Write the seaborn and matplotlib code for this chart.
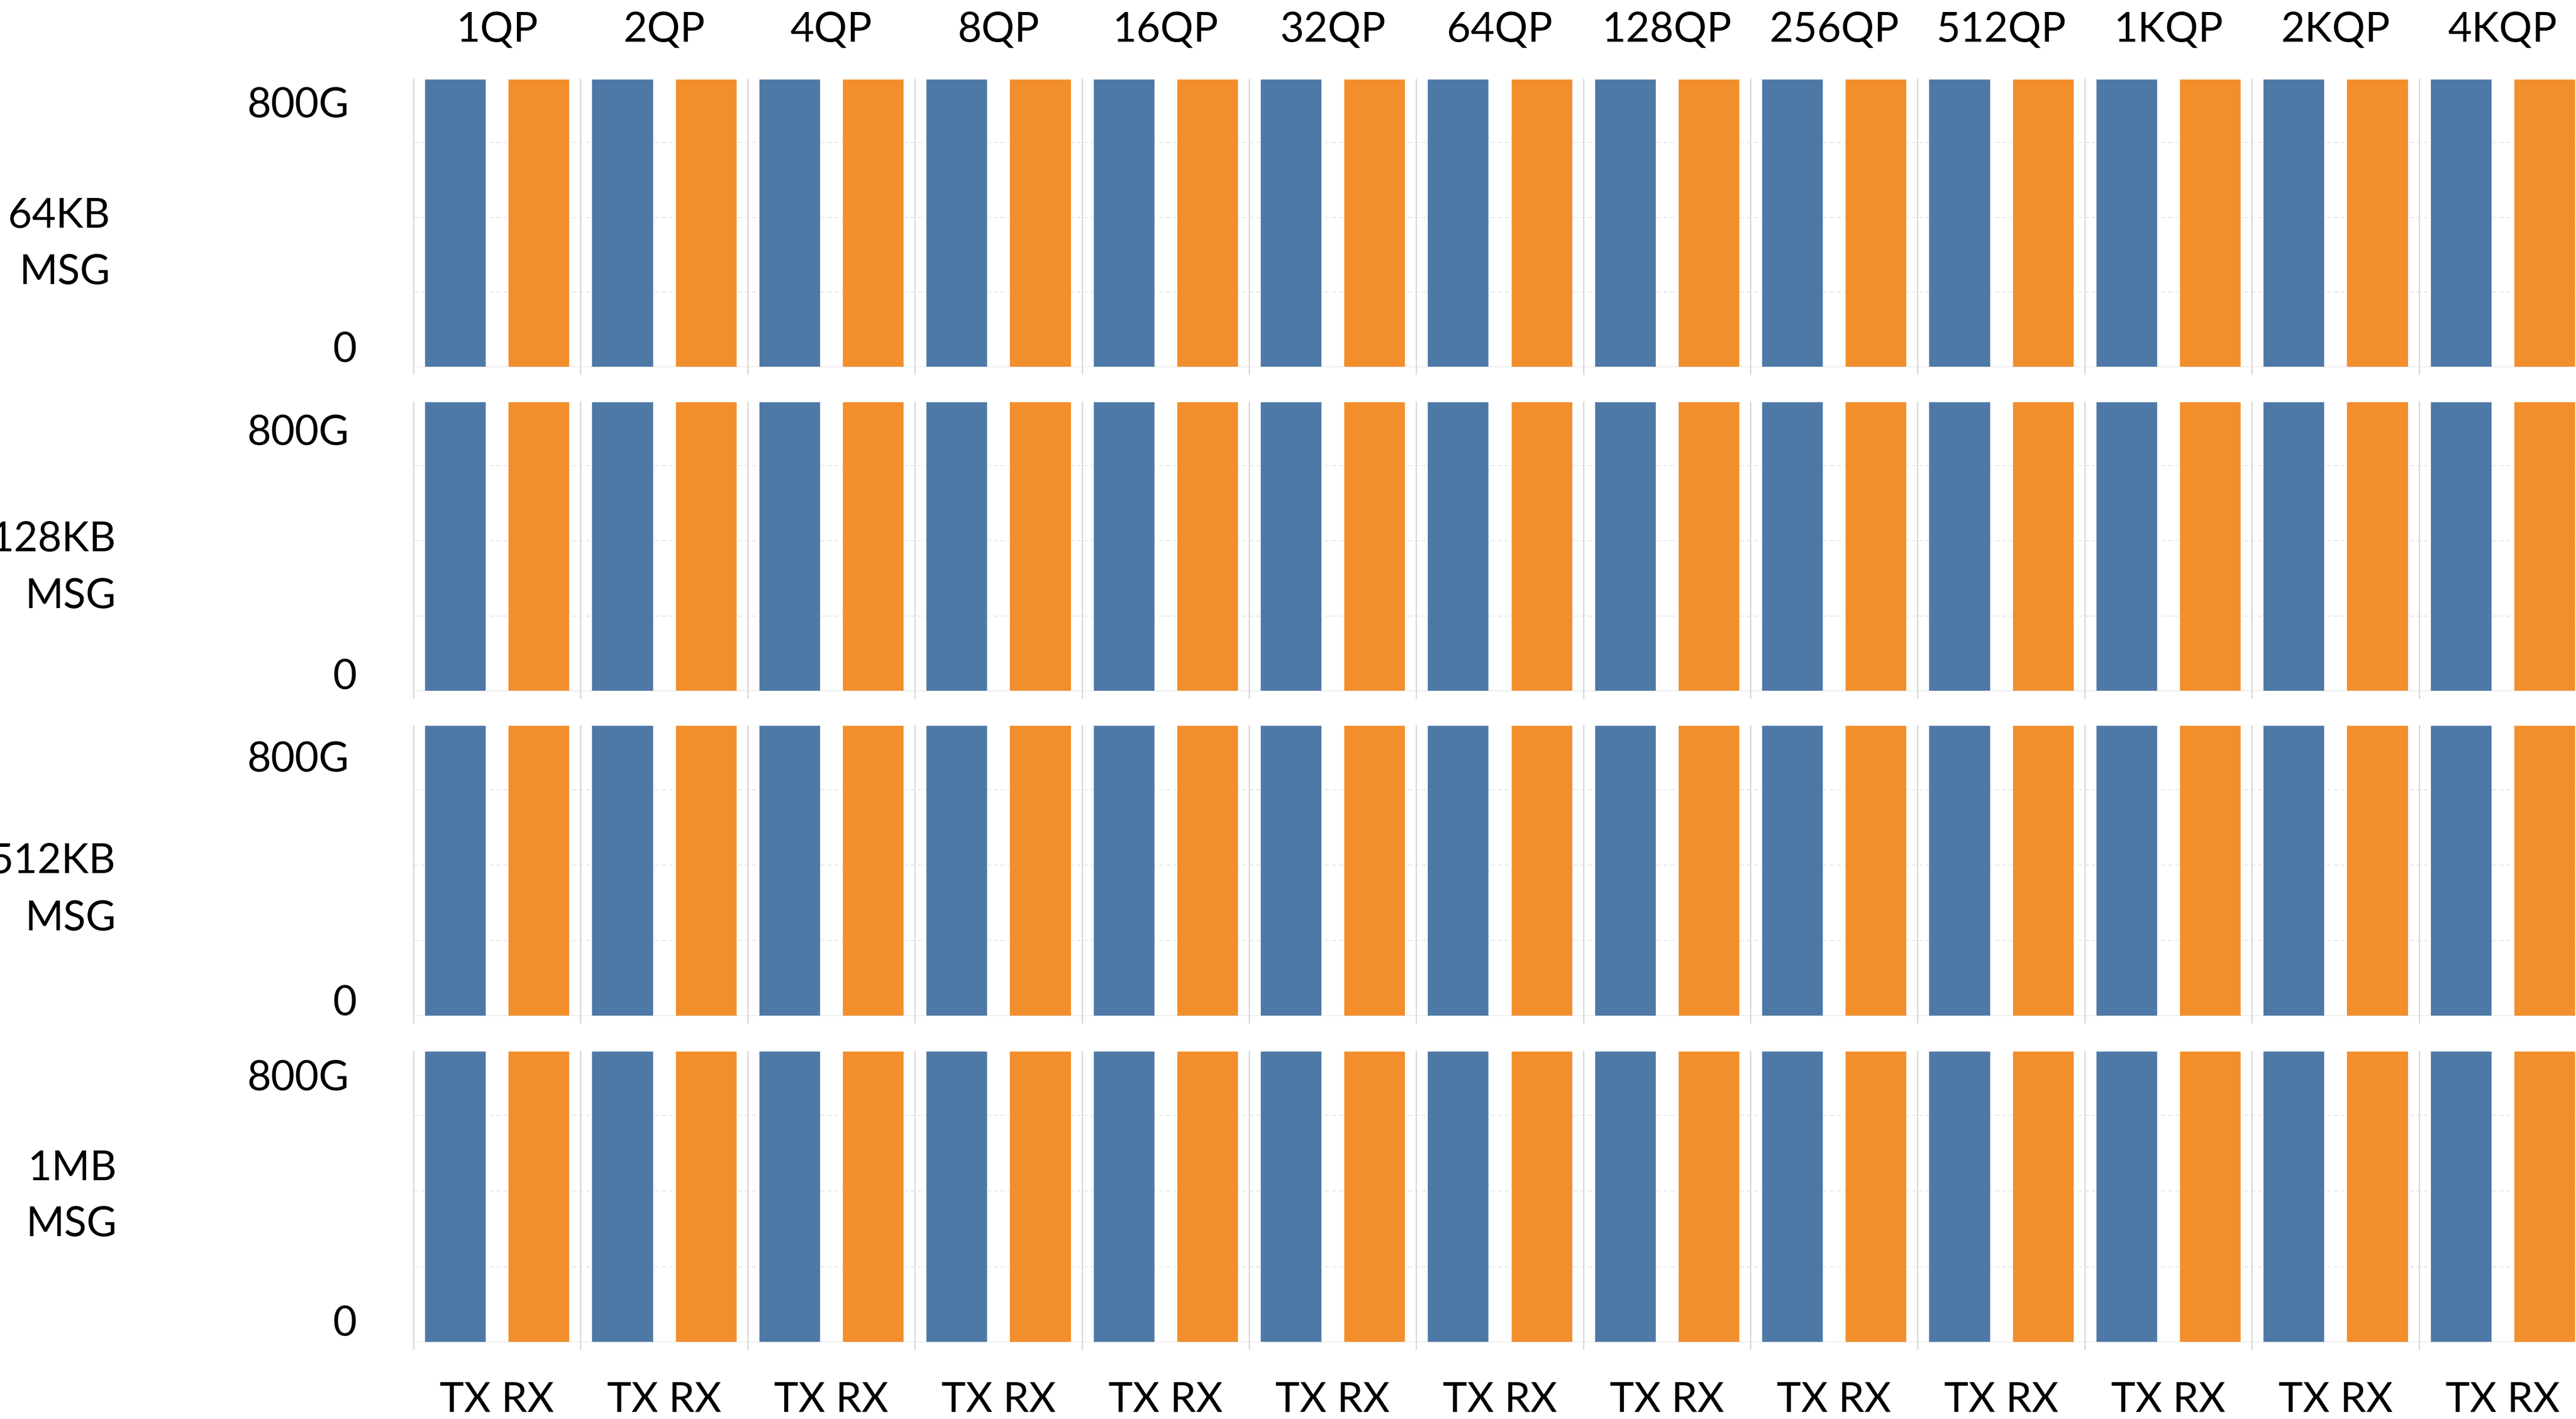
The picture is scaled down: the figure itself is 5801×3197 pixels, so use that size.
import matplotlib
matplotlib.use("Agg")
import matplotlib.pyplot as plt
import matplotlib.transforms as mtransforms
import pandas as pd
import seaborn as sns

# Throughput per queue-pair count, one row per message size (Gbps)
qp_labels = ["1QP", "2QP", "4QP", "8QP", "16QP", "32QP", "64QP",
             "128QP", "256QP", "512QP", "1KQP", "2KQP", "4KQP"]
msg_labels = [("64KB", "MSG"), ("128KB", "MSG"), ("512KB", "MSG"), ("1MB", "MSG")]
pair_label = "TX RX"

tx_64k = [770, 770, 770, 770, 770, 770, 770, 770, 770, 770, 770, 770, 770]
rx_64k = [770, 770, 770, 770, 770, 770, 770, 770, 770, 770, 770, 770, 770]
tx_128k = [770, 770, 770, 770, 770, 770, 770, 770, 770, 770, 770, 770, 770]
rx_128k = [770, 770, 770, 770, 770, 770, 770, 770, 770, 770, 770, 770, 770]
tx_512k = [770, 770, 770, 770, 770, 770, 770, 770, 770, 770, 770, 770, 770]
rx_512k = [770, 770, 770, 770, 770, 770, 770, 770, 770, 770, 770, 770, 770]
tx_1m = [770, 770, 770, 770, 770, 770, 770, 770, 770, 770, 770, 770, 770]
rx_1m = [770, 770, 770, 770, 770, 770, 770, 770, 770, 770, 770, 770, 770]

rows = [(tx_64k, rx_64k), (tx_128k, rx_128k), (tx_512k, rx_512k), (tx_1m, rx_1m)]

BLUE = "#4E79A7"
ORANGE = "#F28E2B"
YMAX = 770

sns.set_theme(style="white")
plt.rcParams["font.family"] = ["Lato", "DejaVu Sans"]

W, H = 5801, 3197
fig = plt.figure(figsize=(W / 100, H / 100), dpi=100)

# layout, in pixels from the top-left corner
row_px = [(178, 827), (905, 1557), (1634, 2289), (2368, 3024)]
x0_px, x1_px = 931, 5824
top_base_px, bottom_base_px = 94, 3181
# baselines: "800G", "0", label line 1, label line 2
text_base_px = [(264, 815, 513, 640), (1002, 1552, 1242, 1370),
                (1738, 2287, 1967, 2096), (2456, 3009, 2659, 2785)]
label_right_px = [248, 261, 261, 263]

FS = 67


def fy(px):
    return 1 - px / H


for i, ((tx, rx), (top, bot)) in enumerate(zip(rows, row_px)):
    ax = fig.add_axes([x0_px / W, fy(bot), (x1_px - x0_px) / W, (bot - top) / H])
    df = pd.DataFrame({
        "qp": qp_labels * 2,
        "dir": ["TX"] * len(qp_labels) + ["RX"] * len(qp_labels),
        "gbps": tx + rx,
    })
    sns.barplot(data=df, x="qp", y="gbps", hue="dir", order=qp_labels,
                hue_order=["TX", "RX"], palette=[BLUE, ORANGE], saturation=1,
                width=1.0, gap=0.266, errorbar=None, legend=False, ax=ax,
                zorder=3)
    ax.set_xlim(-0.5, len(qp_labels) - 0.5)
    ax.set_ylim(0, YMAX)
    ax.set_xlabel("")
    ax.set_ylabel("")
    for s in ax.spines.values():
        s.set_visible(False)

    # faint horizontal gridlines
    ax.set_yticks([200, 400, 600])
    ax.set_yticklabels([])
    ax.tick_params(axis="y", length=0)
    ax.yaxis.grid(True, color="#e4e4e4", linewidth=1.6, linestyle=(0, (4, 3)), zorder=0)
    ax.axhline(0, color="#d6d6d6", linewidth=2, zorder=4)

    # group separators
    for k in range(len(qp_labels) + 1):
        ax.axvline(k - 0.5, ymin=-0.025, ymax=1, color="#d6d6d6", linewidth=2,
                   clip_on=False, zorder=1)

    ax.set_xticks([])

    # category labels: QP counts on top, TX/RX under the last row
    trans = mtransforms.blended_transform_factory(ax.transData, fig.transFigure)
    if i == 0:
        for k, lab in enumerate(qp_labels):
            ax.text(k, fy(top_base_px), lab, transform=trans, ha="center",
                    va="baseline", fontsize=FS, color="black", clip_on=False)
    if i == len(rows) - 1:
        for k in range(len(qp_labels)):
            ax.text(k, fy(bottom_base_px), pair_label, transform=trans,
                    ha="center", va="baseline", fontsize=FS, color="black",
                    clip_on=False)

    b800, b0, l1, l2 = text_base_px[i]
    fig.text(786 / W, fy(b800), "800G", ha="right", va="baseline",
             fontsize=FS, color="black")
    fig.text(803 / W, fy(b0), "0", ha="right", va="baseline",
             fontsize=FS, color="black")
    fig.text(label_right_px[i] / W, fy(l1), msg_labels[i][0], ha="right",
             va="baseline", fontsize=FS, color="black")
    fig.text(label_right_px[i] / W, fy(l2), msg_labels[i][1], ha="right",
             va="baseline", fontsize=FS, color="black")

fig.savefig("out.png", dpi=100)
